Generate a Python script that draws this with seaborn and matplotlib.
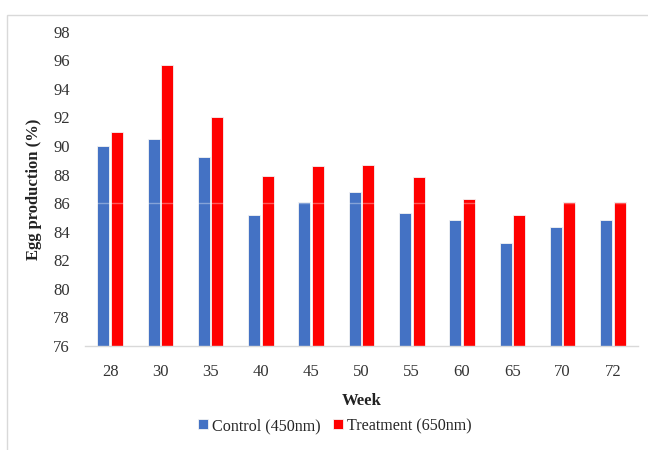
import matplotlib
matplotlib.use("Agg")
import matplotlib.pyplot as plt
from matplotlib.patches import Rectangle
import seaborn as sns
import pandas as pd

weeks = ["28", "30", "35", "40", "45", "50", "55", "60", "65", "70", "72"]
control = [90.0, 90.5, 89.2, 85.2, 86.1, 86.8, 85.3, 84.8, 83.2, 84.3, 84.8]
treatment = [91.0, 95.7, 92.0, 87.9, 88.6, 88.7, 87.8, 86.3, 85.2, 86.1, 86.1]
series_names = ["Control (450nm)", "Treatment (650nm)"]
y_ticks = [76, 78, 80, 82, 84, 86, 88, 90, 92, 94, 96, 98]

df = pd.DataFrame({
    "Week": weeks * 2,
    "Egg": control + treatment,
    "Group": [series_names[0]] * len(weeks) + [series_names[1]] * len(weeks),
})

sns.set_theme(style="white")
plt.rcParams["font.family"] = ["Liberation Serif", "DejaVu Serif"]

fig = plt.figure(figsize=(6.48, 4.5), dpi=100)
ax = fig.add_axes([85 / 648, 1 - 346 / 450, 553 / 648, (346 - 31.7) / 450])

sns.barplot(data=df, x="Week", y="Egg", hue="Group", order=weeks,
            hue_order=series_names,
            palette={series_names[0]: "#4472C4", series_names[1]: "#FF0000"},
            saturation=1, width=0.54, gap=0.12, edgecolor="#f4f4f4", linewidth=0.6,
            ax=ax, errorbar=None)

ax.set_ylim(76, 98)
ax.set_xlim(-0.5, len(weeks) - 0.5)
ax.set_yticks(y_ticks)
ax.set_yticklabels([str(t) for t in y_ticks])
ax.tick_params(axis="both", length=0, labelsize=12)
ax.tick_params(axis="y", pad=11)
ax.tick_params(axis="x", pad=13)
for lab in ax.get_xticklabels() + ax.get_yticklabels():
    lab.set_color("#333333")

for s in ["top", "right", "left"]:
    ax.spines[s].set_visible(False)
ax.spines["bottom"].set_color("#d9d9d9")
ax.spines["bottom"].set_linewidth(1.0)

# faint artefact line at 86
ax.axhline(86, color="white", alpha=0.35, lw=1.0, zorder=5)

ax.set_xlabel("Week", fontsize=12, fontweight="bold", color="#222222")
ax.set_ylabel("Egg production (%)", fontsize=12, fontweight="bold", color="#222222")
ax.xaxis.set_label_coords((362 - 85) / 553, -(393 - 346) / 314.3)
ax.yaxis.set_label_coords((42 - 85) / 553, 0.5)

handles, labels = ax.get_legend_handles_labels()
if ax.get_legend() is not None:
    ax.get_legend().remove()
fig.legend(handles, labels, loc="center", bbox_to_anchor=(335 / 648, 1 - 426 / 450),
           ncol=2, frameon=False, fontsize=11.6, handlelength=0.6, handleheight=0.6,
           handletextpad=0.25, columnspacing=0.8)

# outer chart border (light gray)
fig.patches.append(Rectangle((7 / 648, -0.1), 1.2, 1 - 15 / 450 + 0.1,
                             transform=fig.transFigure, fill=False,
                             edgecolor="#d9d9d9", linewidth=1.0))

fig.savefig("out.png", dpi=100)
